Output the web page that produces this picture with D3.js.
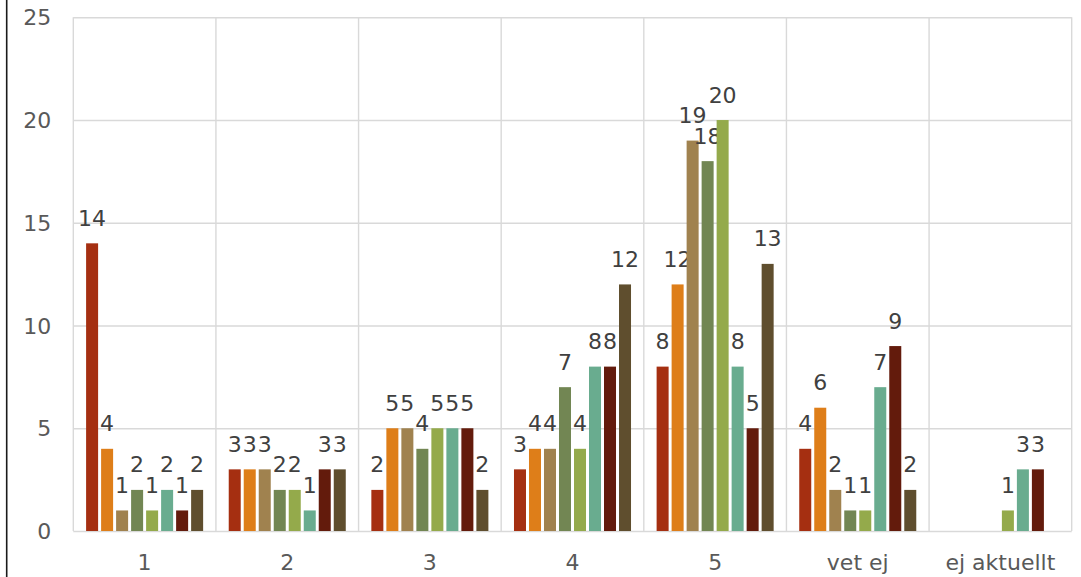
<!DOCTYPE html>
<html>
<head>
<meta charset="utf-8">
<script src="https://cdn.jsdelivr.net/npm/d3@7"></script>
<style>
  html, body { margin: 0; padding: 0; background: #fff; }
  svg { display: block; }
</style>
</head>
<body>
<svg id="chart" width="1081" height="577"></svg>
<script>
const categories = ["1", "2", "3", "4", "5", "vet ej", "ej aktuellt"];
const seriesNames = ["Serie 1", "Serie 2", "Serie 3", "Serie 4", "Serie 5", "Serie 6", "Serie 7", "Serie 8"];
const series1 = [14, 3, 2, 3, 8, 4, null];
const series2 = [4, 3, 5, 4, 12, 6, null];
const series3 = [1, 3, 5, 4, 19, 2, null];
const series4 = [2, 2, 4, 7, 18, 1, null];
const series5 = [1, 2, 5, 4, 20, 1, 1];
const series6 = [2, 1, 5, 8, 8, 7, 3];
const series7 = [1, 3, 5, 8, 5, 9, 3];
const series8 = [2, 3, 2, 12, 13, 2, null];
const seriesColors = ["#A52F11", "#DE7E19", "#A0824F", "#728653", "#94AA4B", "#69AC8F", "#631B0C", "#5F4E2E"];
const yTicks = [0, 5, 10, 15, 20, 25];

const allSeries = [series1, series2, series3, series4, series5, series6, series7, series8];

const svg = d3.select("#chart");
const plotLeft = 73.3, plotRight = 1071.7, plotTop = 17.3, plotBottom = 531;
const fontFamily = "'DejaVu Sans', sans-serif";

const y = d3.scaleLinear().domain([0, 25]).range([plotBottom, plotTop]);
const x0 = d3.scaleBand().domain(categories).range([plotLeft, plotRight]).padding(0);
const groupPad = 12.8;
const x1 = d3.scaleBand().domain(d3.range(allSeries.length))
  .range([groupPad, x0.bandwidth() - groupPad]).paddingInner(0.2).paddingOuter(0);

// left black edge line
svg.append("line")
  .attr("x1", 6.7).attr("x2", 6.7).attr("y1", 0).attr("y2", 577)
  .attr("stroke", "#1a1a1a").attr("stroke-width", 1.6);

// horizontal gridlines + y labels via axis
const yAxis = svg.append("g")
  .attr("transform", `translate(${plotLeft},0)`)
  .call(d3.axisLeft(y).tickValues(yTicks).tickSize(-(plotRight - plotLeft)).tickPadding(22));
yAxis.select(".domain").remove();
yAxis.selectAll(".tick line").attr("stroke", "#D9D9D9").attr("stroke-width", 1.4);
yAxis.selectAll(".tick text")
  .attr("fill", "#595959").attr("font-family", fontFamily).attr("font-size", 22)
  .attr("dy", null).attr("dominant-baseline", "central");

// vertical gridlines at category boundaries
const boundaries = categories.map(c => x0(c)).concat([plotRight]);
svg.append("g").selectAll("line").data(boundaries).join("line")
  .attr("x1", d => d).attr("x2", d => d)
  .attr("y1", plotTop).attr("y2", plotBottom)
  .attr("stroke", "#D9D9D9").attr("stroke-width", 1.4);

// category axis labels
const xAxis = svg.append("g")
  .attr("transform", `translate(0,${plotBottom})`)
  .call(d3.axisBottom(x0).tickSize(0).tickPadding(0));
xAxis.select(".domain").remove();
xAxis.selectAll(".tick text")
  .attr("fill", "#595959").attr("font-family", fontFamily).attr("font-size", 22)
  .attr("y", 39).attr("dy", null);

// bars
const groups = svg.append("g").selectAll("g").data(categories).join("g")
  .attr("transform", c => `translate(${x0(c)},0)`);

const cells = groups.selectAll("g.cell")
  .data((c, ci) => allSeries.map((s, si) => ({ si, v: s[ci] })).filter(d => d.v !== null))
  .join("g").attr("class", "cell");

cells.append("rect")
  .attr("x", d => x1(d.si))
  .attr("width", x1.bandwidth())
  .attr("y", d => y(d.v))
  .attr("height", d => y(0) - y(d.v))
  .attr("fill", d => seriesColors[d.si]);

cells.append("text")
  .attr("x", d => x1(d.si) + x1.bandwidth() / 2)
  .attr("y", d => y(d.v) - 17.5)
  .attr("text-anchor", "middle")
  .attr("fill", "#404040")
  .attr("font-family", fontFamily)
  .attr("font-size", 22)
  .text(d => d.v);
</script>
</body>
</html>
